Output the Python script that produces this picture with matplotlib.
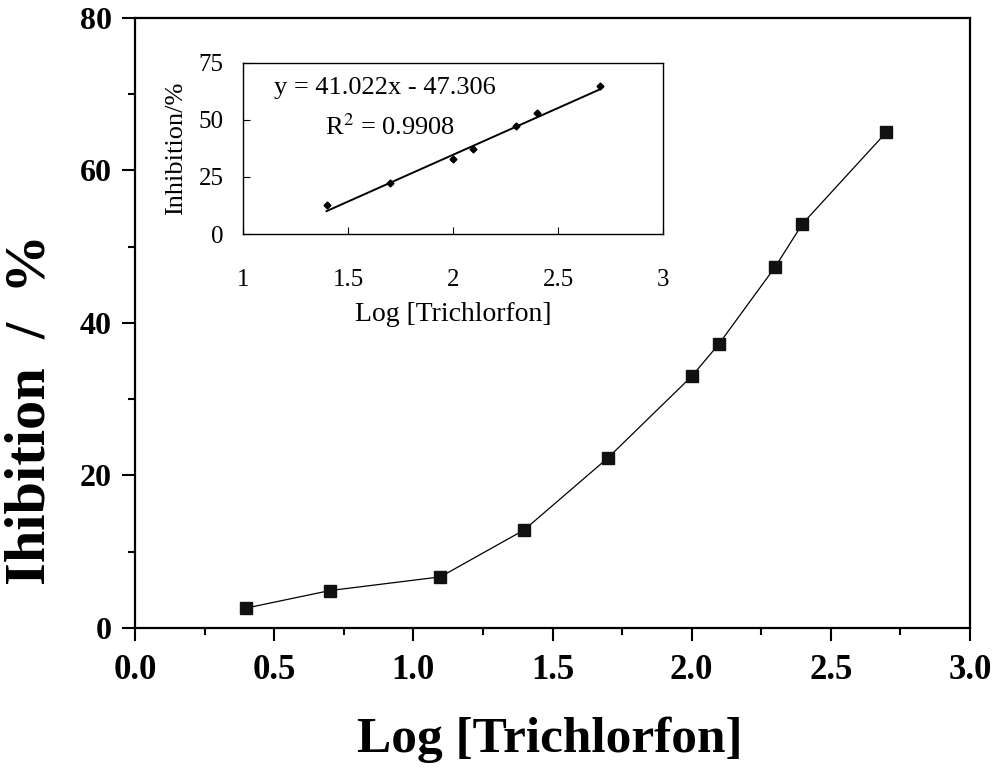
import numpy as np
import matplotlib.pyplot as plt
from matplotlib.ticker import MultipleLocator

plt.rcParams['font.family'] = ['Liberation Serif', 'DejaVu Serif']
plt.rcParams['mathtext.fontset'] = 'stix'

# main curve
log_conc = [0.398, 0.699, 1.097, 1.398, 1.699, 2.0, 2.097, 2.301, 2.398, 2.699]
inhibition = [2.6, 4.9, 6.7, 12.85, 22.3, 33.0, 37.2, 47.4, 53.0, 65.0]

# inset: linear part used for the fit
inset_x = log_conc[3:]
inset_y = inhibition[3:]
slope = 41.022
intercept = -47.306
r_squared = 0.9908

fig = plt.figure(figsize=(10, 7.69), dpi=100)
ax = fig.add_axes([0.135, 0.1834, 0.835, 0.7932])

ax.plot(log_conc, inhibition, color='black', lw=0.9, marker='s',
        markersize=9, markerfacecolor='#111111', markeredgecolor='#111111')

ax.set_xlim(0, 3)
ax.set_ylim(0, 80)
ax.xaxis.set_major_locator(MultipleLocator(0.5))
ax.xaxis.set_minor_locator(MultipleLocator(0.25))
ax.yaxis.set_major_locator(MultipleLocator(20))
ax.yaxis.set_minor_locator(MultipleLocator(10))
ax.set_xticks(np.arange(0, 3.01, 0.5))
ax.set_xticklabels([f'{v:.1f}' for v in np.arange(0, 3.01, 0.5)])
for s in ax.spines.values():
    s.set_linewidth(1.6)
ax.tick_params(which='major', direction='out', length=9.5, width=1.5)
ax.tick_params(which='minor', direction='out', length=5, width=1.5)
ax.tick_params(axis='x', which='major', pad=9, labelsize=25)
ax.tick_params(axis='y', which='major', pad=7, labelsize=23)
for lbl in ax.get_xticklabels() + ax.get_yticklabels():
    lbl.set_fontweight('bold')

fig.text(0.55, 0.038, 'Log [Trichlorfon]', fontsize=37, fontweight='bold',
         ha='center', va='center')
fig.text(0.031, 0.468, 'Ihibition  /  %', fontsize=42, fontweight='bold',
         rotation=90, ha='center', va='center')

# inset with the linear fit
ins = fig.add_axes([0.243, 0.6957, 0.42, 0.2224])
ins.plot(inset_x, inset_y, linestyle='none', marker='D', markersize=3.5,
         color='black')
fit_x = np.array([inset_x[0], inset_x[-1]])
ins.plot(fit_x, slope * fit_x + intercept, color='black', lw=1.4)
ins.set_xlim(1, 3)
ins.set_ylim(0, 75)
ins.set_xticks([1, 1.5, 2, 2.5, 3])
ins.set_xticklabels(['1', '1.5', '2', '2.5', '3'])
ins.set_yticks([0, 25, 50, 75])
for s in ins.spines.values():
    s.set_linewidth(1.0)
ins.tick_params(direction='in', length=5, width=0.8, labelsize=18)
ins.tick_params(axis='x', pad=25)
ins.tick_params(axis='y', pad=14)
ins.set_xlabel('Log [Trichlorfon]', fontsize=20, labelpad=8)
ins.set_ylabel('Inhibition/%', fontsize=19, labelpad=8)
ins.text(1.15, 64, f'y = {slope}x - {abs(intercept)}', fontsize=19,
         ha='left', va='center')
ins.text(1.39, 47, f'R$^2$ = {r_squared}', fontsize=19, ha='left', va='center')

fig.savefig('out.png', dpi=100)
